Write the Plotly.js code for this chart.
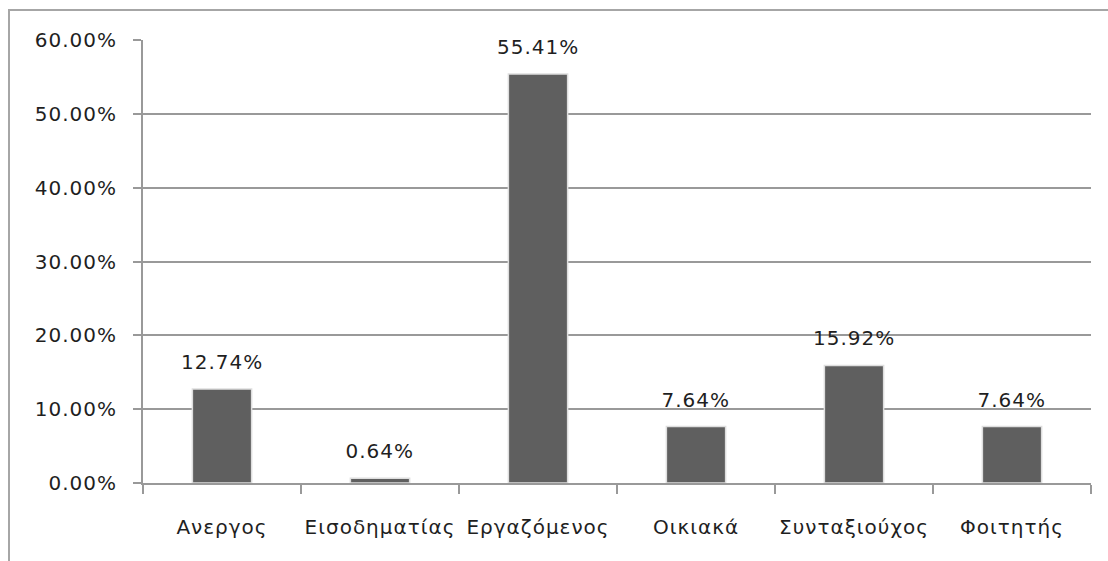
<!DOCTYPE html>
<html><head><meta charset="utf-8">
<script src="https://cdn.plot.ly/plotly-3.0.1.min.js"></script>
<style>body{margin:0;background:#fff}#c{width:1108px;height:561px}#c text{letter-spacing:1px}</style>
</head><body><div id="c"></div>
<script>
const categories = ["Ανεργος","Εισοδηματίας","Εργαζόμενος","Οικιακά","Συνταξιούχος","Φοιτητής"];
const values = [0.1274, 0.0064, 0.5541, 0.0764, 0.1592, 0.0764];
const labels = ["12.74%","0.64%","55.41%","7.64%","15.92%","7.64%"];

const font = {family: "DejaVu Sans, sans-serif", size: 20, color: "#1f1f1f"};
const data = [{
  type: "bar", x: categories, y: values,
  marker: {color: "#5f5f5f", line: {color: "#dedede", width: 1.5}},
  hoverinfo: "skip"
}];
const annotations = categories.map((c, i) => ({
  x: c, y: values[i], text: labels[i], showarrow: false,
  yanchor: "middle", yshift: 27, font: font
}));
const layout = {
  width: 1108, height: 561,
  margin: {l: 143, r: 17, t: 40, b: 78},
  paper_bgcolor: "#fff", plot_bgcolor: "#fff",
  showlegend: false, bargap: 0.625,
  font: font,
  xaxis: {
    type: "category", showgrid: false, showline: true, linecolor: "#999", linewidth: 2,
    ticks: "outside", tickson: "boundaries", ticklen: 9, tickcolor: "#999", tickwidth: 2,
    ticklabelstandoff: 25, tickfont: font
  },
  yaxis: {
    range: [0, 0.6], dtick: 0.1, tickformat: ".2%",
    showgrid: true, gridcolor: "#999", gridwidth: 2,
    showline: true, linecolor: "#999", linewidth: 2,
    ticks: "outside", ticklen: 8, tickcolor: "#999", tickwidth: 2,
    ticklabelstandoff: 12, zeroline: false, tickfont: font
  },
  annotations: annotations,
  shapes: [{type: "rect", xref: "paper", yref: "paper",
    x0: (9-143)/948, x1: 1.3, y0: -0.5, y1: (483-10)/443,
    line: {color: "#a6a6a6", width: 2}, layer: "below"}]
};
Plotly.newPlot("c", data, layout, {staticPlot: true});
</script></body></html>
